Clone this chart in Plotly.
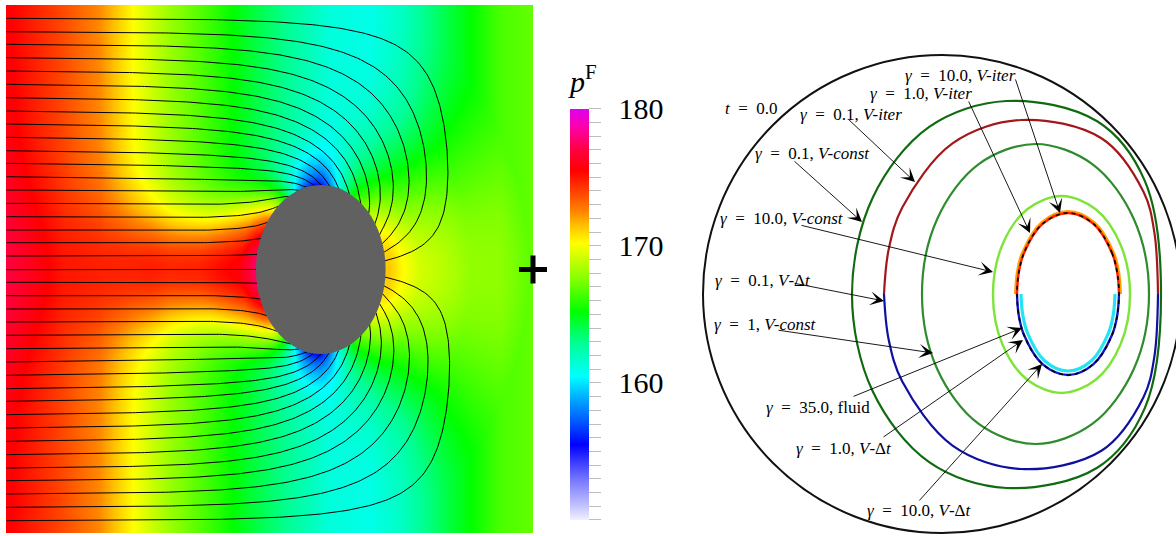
import numpy as np
import plotly.graph_objects as go

# ===================== DATA =====================
# ---- left panel: field window (field units ~ pixels), obstacle ----
FIELD_W = 528.0
FIELD_H = 528.0
ellipse_center = [314.8, 264.5]
ellipse_axes = [64.8, 84.5]

# depths of the streamline seeds along the inflow (left) edge
seed_depths = [13.3, 26.7, 39.3, 52.7, 66.0, 79.3, 92.7, 106.0, 119.0, 132.3,
               145.7, 158.3, 171.7, 185.0, 198.3, 211.7, 225.0, 237.7, 251.0,
               264.7, 277.3, 290.7, 304.0, 317.0, 330.3, 343.7, 357.0, 370.3,
               383.7, 396.3, 409.7, 423.0, 436.3, 449.7, 463.0, 475.7, 489.0,
               502.3, 515.7]
# uptake along the obstacle: [rear bias, flank bump, flank angle deg, flank width deg]
uptake = [0.3, 0.6, 100.0, 25.0]
flow_wall = 465.0

# far-field pressure read along the top edge
bg_x = [0, 54, 94, 127, 164, 209, 254, 324, 364, 394, 444, 494, 528]
bg_p = [175.7, 173.9, 172.4, 170.2, 168.0, 166.0, 164.0, 161.3, 161.0, 161.8, 164.3, 166.5, 167.0]
# excess pressure along the axis, in front of / behind the obstacle (distance in semi-axes)
front_s = [0.0, 0.25, 0.86, 1.63, 2.4, 3.0, 3.85, 6.0]
front_dp = [13.6, 10.9, 8.1, 5.7, 2.4, 1.2, 1.3, 1.3]
rear_s = [0.0, 0.06, 0.52, 1.3, 2.2]
rear_dp = [9.9, 9.8, 6.5, 2.7, 0.0]
# low-pressure flanks: [depth, angle deg, angular width deg, radial decay]
flank = [9.2, 100.0, 28.0, 0.22]

p_range = [150, 180]
cs_vals = [150, 151, 152, 153, 154, 155.5, 157, 158.5, 160.5, 163, 165.2, 167.5,
           170.2, 171.5, 172.6, 174, 175.5, 177, 178.5, 180]
cs_cols = ['#f0f0ff', '#c4c4ff', '#9c9cff', '#7474ff', '#4646ff', '#0000ff', '#0050ff',
           '#0098ff', '#00ffff', '#00ff90', '#00ff00', '#80ff00', '#ffff00', '#ffc000',
           '#ff8000', '#ff4000', '#ff0000', '#ff0040', '#ff00a0', '#e000f0']
cb_tickvals = list(range(150, 181))
cb_major = [150, 160, 170, 180]

# ---- right panel: interface shapes (units: initial radius = 239) ----
R0 = 239.0
vconst_01_x = [219, 202.8, 155.2, 64.5, -12.8, -69.3, -90, -69.3, -12.8, 64.5, 155.2, 202.8]
vconst_01_y = [-0.5, 113.1, 172.7, 193, 167.1, 96.3, -0.5, -97.3, -168.1, -194, -173.7, -114.1]
viter_01_x = [-58, -53.3, -39.6, 10.5, 79, 159.4, 201.6, 212.4, 216]
viter_01_y = [0, 44.7, 86.8, 150.6, 174, 155.7, 101.9, 61.3, 0]
vdt_01_x = [216, 212.4, 201.6, 159.4, 79, 10.5, -39.6, -53.3, -58]
vdt_01_y = [0, -62.3, -102.9, -156.7, -175, -151.6, -87.8, -45.7, 0]
vconst_1_x = [207, 191.8, 150.3, 93.5, 36.75, -4.8, -20, -4.8, 36.75, 93.5, 150.3, 191.8]
vconst_1_y = [0, 75, 129.9, 150, 129.9, 75, 0, -75, -129.9, -150, -129.9, -75]
vconst_10_x = [188, 178.8, 153.75, 119.5, 85.25, 60.2, 51, 60.2, 85.25, 119.5, 153.75, 178.8]
vconst_10_y = [-0.5, 48.75, 84.8, 98, 84.8, 48.75, -0.5, -49.75, -85.8, -99, -85.8, -49.75]
viter_10_x = [73.5, 75.3, 80.5, 99.75, 126, 152.25, 171.5, 176.7, 178.5]
viter_10_y = [0, 21.4, 41.25, 71.4, 82.5, 71.4, 41.25, 21.4, 0]
viter_1_x = [75, 76.7, 81.8, 100.5, 126, 151.5, 170.2, 175.3, 177]
viter_1_y = [0, 21, 40.5, 70.1, 81, 70.1, 40.5, 21, 0]
vdt_1_x = [177, 175.3, 170.2, 151.5, 126, 100.5, 81.8, 76.7, 75]
vdt_1_y = [0, -21, -40.5, -70.1, -81, -70.1, -40.5, -21, 0]
vdt_10_x = [173, 171.4, 166.7, 149.5, 126, 102.5, 85.3, 80.6, 79]
vdt_10_y = [0, -19.9, -38.5, -66.7, -77, -66.7, -38.5, -19.9, 0]
fluid_35_x = [177, 170.2, 151.5, 126, 100.5, 81.8, 75, 81.8, 100.5, 126, 151.5, 170.2]
fluid_35_y = [0, 40.5, 70.1, 81, 70.1, 40.5, 0, -40.5, -70.1, -81, -70.1, -40.5]

SP = "\u00a0\u00a0"
labels = [
    ("<i>t</i>" + SP + "=" + SP + "0.0", -191, 186),
    ("<i>γ</i>" + SP + "=" + SP + "10.0, <i>V-iter</i>", 18, 219),
    ("<i>γ</i>" + SP + "=" + SP + "1.0, <i>V-iter</i>", -21, 201),
    ("<i>γ</i>" + SP + "=" + SP + "0.1, <i>V-iter</i>", -91, 180),
    ("<i>γ</i>" + SP + "=" + SP + "0.1, <i>V-const</i>", -130, 141),
    ("<i>γ</i>" + SP + "=" + SP + "10.0, <i>V-const</i>", -160, 76),
    ("<i>γ</i>" + SP + "=" + SP + "0.1, <i>V</i>-Δ<i>t</i>", -179, 14),
    ("<i>γ</i>" + SP + "=" + SP + "1, <i>V-const</i>", -177, -30),
    ("<i>γ</i>" + SP + "=" + SP + "35.0, fluid", -124, -113),
    ("<i>γ</i>" + SP + "=" + SP + "1.0, <i>V</i>-Δ<i>t</i>", -98, -154),
    ("<i>γ</i>" + SP + "=" + SP + "10.0, <i>V</i>-Δ<i>t</i>", -23, -216),
]
# (tip x, tip y, tail x, tail y)
arrows = [
    (-27, 112, -95, 176),
    (-80, 72, -149, 134),
    (51, 22, -142, 69),
    (-58, -7, -149, 11),
    (-9, -59, -165, -36),
    (80, -34, -90, -103),
    (81, -46, -60, -144),
    (100, -70, -24, -208),
    (88, 61, 26, 194),
    (118, 81, 73, 216),
]

# ===================== PRESSURE FIELD =====================
xc, yc = ellipse_center
ea, eb = ellipse_axes

gx = np.linspace(0, FIELD_W, 265)
gy = np.linspace(0, FIELD_H, 265)
GX, GY = np.meshgrid(gx, gy)
bg = np.interp(GX, bg_x, bg_p)
u = (GX - xc) / ea
v = (GY - yc) / eb
rho = np.maximum(np.hypot(u, v), 1.0)
s_dist = rho - 1.0
theta = np.degrees(np.arctan2(np.abs(v), u))
offL = 180.0 - theta
sigL = 14.0 + 52.0 * np.exp(-s_dist / 0.45)
front = np.interp(s_dist, front_s, front_dp) * np.exp(-(offL / sigL) ** 2)
rear = np.interp(s_dist, rear_s, rear_dp) * np.clip(np.cos(np.radians(theta)), 0, 1) ** (1 + 0.8 * s_dist)
neg = flank[0] * np.exp(-((theta - flank[1]) / flank[2]) ** 2) * np.exp(-s_dist / flank[3])
pressure = bg + front + rear - neg

# ===================== STREAMLINES =====================
# Darcy-type flow: uniform inflow at left, closed walls, uptake along the obstacle rim
hg = 3.0
nxg = int(round(FIELD_W / hg))
nyg = int(round(FIELD_H / hg))
cxs = (np.arange(nxg) + 0.5) * hg
cys = (np.arange(nyg) + 0.5) * hg
CX, CY = np.meshgrid(cxs, cys)
inside = ((CX - xc) / ea) ** 2 + ((CY - yc) / eb) ** 2 < 1.0
nb_out = np.zeros_like(inside)
nb_out[:, :-1] |= ~inside[:, 1:]
nb_out[:, 1:] |= ~inside[:, :-1]
nb_out[:-1, :] |= ~inside[1:, :]
nb_out[1:, :] |= ~inside[:-1, :]
rim = inside & nb_out
active = ((~inside) | rim) & (CX < flow_wall)
fx = (active[:, :-1] & active[:, 1:]).astype(float)
fy = (active[:-1, :] & active[1:, :]).astype(float)

rhs = np.zeros((nyg, nxg))
rhs[:, 0] = 1.0
su = (CX - xc) / ea
sv = (CY - yc) / eb
sth = np.arctan2(np.abs(sv), su)
nxn = (CX - xc) / ea ** 2
nyn = (CY - yc) / eb ** 2
nn = np.hypot(nxn, nyn) + 1e-12
arc = 1.0 / (np.abs(nxn / nn) + np.abs(nyn / nn))
wgt = (1 + uptake[0] * np.cos(sth)
       + uptake[1] * np.exp(-((np.degrees(sth) - uptake[2]) / uptake[3]) ** 2)) * arc
wgt[~rim] = 0.0
rhs -= wgt * (rhs[:, 0].sum() / wgt.sum())


def A(p):
    q = np.zeros_like(p)
    d = (p[:, :-1] - p[:, 1:]) * fx
    q[:, :-1] += d
    q[:, 1:] -= d
    d = (p[:-1, :] - p[1:, :]) * fy
    q[:-1, :] += d
    q[1:, :] -= d
    return q


phi = np.zeros_like(rhs)
r = rhs.copy()
pd = r.copy()
rs = np.sum(r * r)
rs0 = rs
for it in range(8000):
    Ap = A(pd)
    alpha = rs / np.sum(pd * Ap)
    phi += alpha * pd
    r -= alpha * Ap
    rs_new = np.sum(r * r)
    if rs_new < 1e-16 * rs0:
        break
    pd = r + (rs_new / rs) * pd
    rs = rs_new

UU = np.zeros_like(phi)
VV = np.zeros_like(phi)
fxl = (phi[:, :-1] - phi[:, 1:]) * fx
fyl = (phi[:-1, :] - phi[1:, :]) * fy
UU[:, :-1] += 0.5 * fxl
UU[:, 1:] += 0.5 * fxl
UU[:, 0] += 0.5 * 1.0
VV[:-1, :] += 0.5 * fyl
VV[1:, :] += 0.5 * fyl


def interp(field, x, y):
    fi = x / hg - 0.5
    fj = y / hg - 0.5
    i0 = np.clip(np.floor(fi).astype(int), 0, nxg - 2)
    j0 = np.clip(np.floor(fj).astype(int), 0, nyg - 2)
    tx = np.clip(fi - i0, 0, 1)
    ty = np.clip(fj - j0, 0, 1)
    return (field[j0, i0] * (1 - tx) * (1 - ty) + field[j0, i0 + 1] * tx * (1 - ty)
            + field[j0 + 1, i0] * (1 - tx) * ty + field[j0 + 1, i0 + 1] * tx * ty)


def direction(x, y):
    uu = interp(UU, x, y)
    vv = interp(VV, x, y)
    n = np.hypot(uu, vv) + 1e-15
    return uu / n, vv / n


n_seed = len(seed_depths)
X = np.full(n_seed, 0.5)
Y = np.array(seed_depths, float)
alive = np.ones(n_seed, bool)
hx = [X.copy()]
hy = [Y.copy()]
h = 1.5
for it in range(2500):
    if not alive.any():
        break
    xa, ya = X[alive], Y[alive]
    k1 = direction(xa, ya)
    k2 = direction(xa + 0.5 * h * k1[0], ya + 0.5 * h * k1[1])
    k3 = direction(xa + 0.5 * h * k2[0], ya + 0.5 * h * k2[1])
    k4 = direction(xa + h * k3[0], ya + h * k3[1])
    X[alive] = xa + h / 6 * (k1[0] + 2 * k2[0] + 2 * k3[0] + k4[0])
    Y[alive] = ya + h / 6 * (k1[1] + 2 * k2[1] + 2 * k3[1] + k4[1])
    hx.append(np.where(alive, X, np.nan))
    hy.append(np.where(alive, Y, np.nan))
    ins = ((X - xc) / ea) ** 2 + ((Y - yc) / eb) ** 2 < 1
    out = (X > FIELD_W + 2) | (Y < -2) | (Y > FIELD_H + 2) | (X < -2)
    alive &= ~(ins | out)
HX = np.array(hx)
HY = np.array(hy)
sl_x, sl_y = [], []
for i in range(n_seed):
    m = ~np.isnan(HX[:, i])
    px_, py_ = HX[m, i], HY[m, i]
    sl_x += px_[::2].tolist() + [px_[-1], None]
    sl_y += py_[::2].tolist() + [py_[-1], None]

# ===================== FIGURE =====================
colorscale = [[(v_ - p_range[0]) / (p_range[1] - p_range[0]), c] for v_, c in zip(cs_vals, cs_cols)]
SERIF = "Liberation Serif, DejaVu Serif, serif"
TS = "\u2009\u2009"

fig = go.Figure()
fig.add_trace(go.Heatmap(
    x=gx, y=gy, z=pressure, zmin=p_range[0], zmax=p_range[1],
    colorscale=colorscale, zsmooth='best', xaxis='x', yaxis='y',
    colorbar=dict(
        x=570 / 1176, xanchor='left', xpad=0, y=1 - 293 / 536, yanchor='middle', ypad=0,
        len=454, lenmode='pixels', thickness=19, thicknessmode='pixels', outlinewidth=0,
        tickmode='array', tickvals=cb_tickvals,
        ticktext=[TS + str(t) if t in cb_major else '' for t in cb_tickvals],
        ticks='outside', ticklen=12, tickwidth=1, tickcolor='#bdbdbd',
        tickfont=dict(family=SERIF, size=30, color='black'),
        title=dict(text='\u2009<i>p</i><sup>F</sup>', side='top',
                   font=dict(family=SERIF, size=30, color='black')),
    ),
    hoverinfo='skip',
))
fig.add_trace(go.Scatter(x=sl_x, y=sl_y, mode='lines', line=dict(color='black', width=1),
                         xaxis='x', yaxis='y', hoverinfo='skip'))
fig.add_trace(go.Scatter(x=[527.0], y=[yc], mode='markers', xaxis='x', yaxis='y', cliponaxis=False,
                         marker=dict(symbol='cross-thin', size=20, line=dict(width=5, color='black')),
                         hoverinfo='skip'))


def curve(xs, ys, color, width, dash='solid', close=False):
    xs, ys = list(xs), list(ys)
    if close:
        xs, ys = xs + [xs[0]], ys + [ys[0]]
    fig.add_trace(go.Scatter(x=xs, y=ys, mode='lines', xaxis='x2', yaxis='y2',
                             line=dict(color=color, width=width, dash=dash, shape='spline'),
                             hoverinfo='skip'))


curve(vconst_01_x, vconst_01_y, '#106b10', 2.2, close=True)
curve(viter_01_x, viter_01_y, '#a3171b', 2.2)
curve(vdt_01_x, vdt_01_y, '#1010a0', 2.2)
curve(vconst_1_x, vconst_1_y, '#2e8b2e', 2.2, close=True)
curve(vconst_10_x, vconst_10_y, '#7ee43a', 2.4, close=True)
curve(viter_10_x, viter_10_y, '#ffa000', 3.0)
curve(viter_1_x, viter_1_y, '#ff2200', 2.4)
curve(vdt_1_x, vdt_1_y, '#1515c8', 2.4)
curve(vdt_10_x, vdt_10_y, '#22e4f2', 3.2)
curve(fluid_35_x, fluid_35_y, 'black', 1.6, dash='4px,4px', close=True)

shapes = [
    dict(type='circle', xref='x', yref='y', x0=xc - ea, x1=xc + ea, y0=yc - eb, y1=yc + eb,
         fillcolor='#616161', line=dict(width=0), layer='above'),
    dict(type='circle', xref='x2', yref='y2', x0=-R0, x1=R0, y0=-R0, y1=R0,
         line=dict(color='#111111', width=2), layer='below'),
]

annotations = []
for txt, lx, ly in labels:
    annotations.append(dict(x=lx, y=ly, xref='x2', yref='y2', text=txt, showarrow=False,
                            font=dict(family=SERIF, size=17, color='black')))
for tx, ty, ax_, ay_ in arrows:
    annotations.append(dict(x=tx, y=ty, ax=ax_, ay=ay_, xref='x2', yref='y2', axref='x2', ayref='y2',
                            text='', showarrow=True, arrowhead=3, arrowsize=2.6, arrowwidth=0.9,
                            arrowcolor='black', standoff=0))

fig.update_layout(
    width=1176, height=536, margin=dict(l=0, r=0, t=0, b=0),
    paper_bgcolor='white', plot_bgcolor='white', showlegend=False,
    xaxis=dict(domain=[6 / 1176, 533 / 1176], range=[0, 527], visible=False),
    yaxis=dict(domain=[3 / 536, 531 / 536], range=[FIELD_H, 0], visible=False),
    xaxis2=dict(domain=[690 / 1176, 1], range=[-252, 234], visible=False, anchor='y2'),
    yaxis2=dict(domain=[0, 1], range=[-242, 294], visible=False, anchor='x2'),
    shapes=shapes, annotations=annotations,
)

fig.write_html("out.html")
